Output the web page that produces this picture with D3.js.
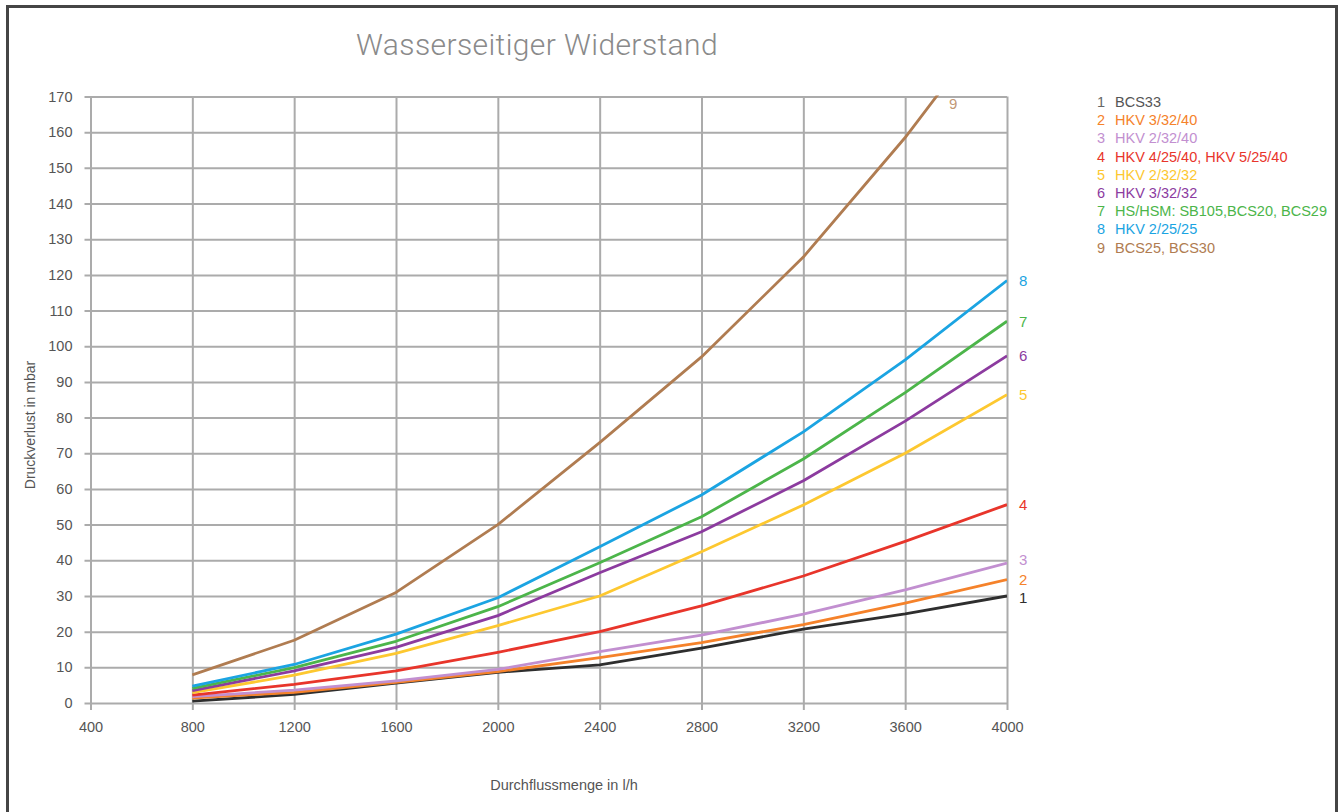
<!DOCTYPE html>
<html>
<head>
<meta charset="utf-8">
<script src="https://cdn.jsdelivr.net/npm/d3@7"></script>
<style>
  html, body { margin: 0; padding: 0; background: #fff; }
  svg { display: block; font-family: "Liberation Sans", "Helvetica Neue", Arial, sans-serif; }
</style>
</head>
<body>
<svg id="chart" width="1344" height="812"></svg>
<script>
// Flow rates (l/h) at which the pressure loss was measured
const flowRates = [800, 1200, 1600, 2000, 2400, 2800, 3200, 3600, 4000];

// Pressure loss (mbar) per device group
const bcs33      = [0.5, 2.4, 5.6, 8.6, 10.7, 15.4, 20.7, 25.0, 30.0];
const hkv33240   = [1.4, 3.0, 5.8, 8.8, 12.7, 16.9, 22.0, 28.0, 34.6];
const hkv23240   = [1.8, 3.6, 6.2, 9.4, 14.4, 19.0, 24.9, 31.7, 39.2];
const hkv42540   = [2.2, 5.2, 9.0, 14.2, 20.0, 27.2, 35.6, 45.3, 55.6];
const hkv23232   = [2.9, 7.8, 13.9, 21.7, 30.0, 42.4, 55.5, 70.0, 86.4];
const hkv33232   = [3.5, 9.0, 15.6, 24.5, 36.5, 48.0, 62.3, 79.0, 97.3];
const hsHsm      = [4.1, 9.9, 17.3, 27.0, 39.3, 52.2, 68.4, 87.0, 107.0];
const hkv22525   = [4.7, 10.8, 19.3, 29.5, 43.8, 58.3, 76.0, 96.2, 118.4];
const bcs2530    = [7.9, 17.6, 31.0, 50.0, 73.0, 97.0, 125.0, 158.5, 196.0];

const seriesNames = [
  "BCS33", "HKV 3/32/40", "HKV 2/32/40", "HKV 4/25/40, HKV 5/25/40",
  "HKV 2/32/32", "HKV 3/32/32", "HS/HSM: SB105,BCS20, BCS29",
  "HKV 2/25/25", "BCS25, BCS30"
];
const seriesColors = [
  "#2e2e2e", "#f5822a", "#c28fd0", "#e8352b",
  "#fdc830", "#8c3b9f", "#4cb54a", "#1ba4e2", "#b07c51"
];
const seriesValues = [bcs33, hkv33240, hkv23240, hkv42540, hkv23232, hkv33232, hsHsm, hkv22525, bcs2530];

const xTicks = [400, 800, 1200, 1600, 2000, 2400, 2800, 3200, 3600, 4000];
const yTicks = d3.range(0, 171, 10);

const svg = d3.select("#chart");

// Outer frame
svg.append("rect")
  .attr("x", 7.5).attr("y", 6.5).attr("width", 1329).attr("height", 820)
  .attr("fill", "none").attr("stroke", "#454545").attr("stroke-width", 3);

const plot = { left: 90.5, right: 1007, top: 96.5, bottom: 703 };

const x = d3.scaleLinear().domain([400, 4000]).range([plot.left, plot.right]);
const y = d3.scaleLinear().domain([0, 170]).range([plot.bottom, plot.top]);

const gridColor = "#ababab";
const tickFont = 14.5;

// Horizontal grid and y axis
const yAxis = d3.axisLeft(y).tickValues(yTicks).tickFormat(d3.format("d"))
  .tickSize(plot.right - plot.left + 6);
const gy = svg.append("g")
  .attr("transform", `translate(${plot.right},0)`)
  .call(yAxis);
gy.select(".domain").remove();
gy.selectAll(".tick line").attr("stroke", gridColor).attr("stroke-width", 2);
gy.selectAll(".tick text")
  .attr("fill", "#555").attr("font-size", tickFont)
  .attr("x", -(plot.right - plot.left + 6) - 12);

// Vertical grid and x axis
const xAxis = d3.axisBottom(x).tickValues(xTicks).tickFormat(d3.format("d"))
  .tickSize(plot.bottom - plot.top + 7).tickPadding(12);
const gx = svg.append("g")
  .attr("transform", `translate(0,${plot.top})`)
  .call(xAxis);
gx.select(".domain").remove();
gx.selectAll(".tick line").attr("stroke", gridColor).attr("stroke-width", 2);
gx.selectAll(".tick text").attr("fill", "#555").attr("font-size", tickFont);

// Curves, clipped to the plot area
svg.append("clipPath").attr("id", "plotClip")
  .append("rect")
  .attr("x", plot.left).attr("y", plot.top - 1)
  .attr("width", plot.right - plot.left).attr("height", plot.bottom - plot.top + 2);

const line = d3.line()
  .x((d, i) => x(flowRates[i]))
  .y(d => y(d));

const curves = svg.append("g").attr("clip-path", "url(#plotClip)");
seriesValues.forEach((vals, k) => {
  curves.append("path")
    .datum(vals)
    .attr("d", line)
    .attr("fill", "none")
    .attr("stroke", seriesColors[k])
    .attr("stroke-width", 2.8)
    .attr("stroke-linejoin", "round");
});

// Curve numbers at the right end
const endLabelOffsets = [2, 0, -3, 0, 0, 0, 0, 0, 0];
seriesValues.forEach((vals, k) => {
  if (k === 8) return;
  svg.append("text")
    .attr("x", plot.right + 12)
    .attr("y", y(vals[vals.length - 1]) + endLabelOffsets[k])
    .attr("dy", "0.35em")
    .attr("fill", seriesColors[k])
    .attr("font-size", 15)
    .text(k + 1);
});
// Curve 9 leaves the plot at the top
svg.append("text")
  .attr("x", 949).attr("y", y(170) + 7)
  .attr("dy", "0.35em")
  .attr("fill", seriesColors[8]).attr("fill-opacity", 0.8)
  .attr("font-size", 15)
  .text("9");

// Title
svg.append("text")
  .attr("x", 537).attr("y", 44)
  .attr("text-anchor", "middle").attr("dy", "0.35em")
  .attr("fill", "#8a8a8a").attr("font-size", 30)
  .attr("font-family", "Roboto, 'Liberation Sans', sans-serif").attr("font-weight", 300)
  .attr("letter-spacing", 0.4)
  .text("Wasserseitiger Widerstand");

// Axis titles
svg.append("text")
  .attr("transform", "translate(30,425) rotate(-90)")
  .attr("text-anchor", "middle").attr("dy", "0.35em")
  .attr("fill", "#555").attr("font-size", 14)
  .text("Druckverlust in mbar");

svg.append("text")
  .attr("x", 564).attr("y", 785)
  .attr("text-anchor", "middle").attr("dy", "0.35em")
  .attr("fill", "#555").attr("font-size", 14.5)
  .text("Durchflussmenge in l/h");

// Legend
const legend = svg.append("g").attr("transform", "translate(1097,102)");
seriesNames.forEach((name, k) => {
  const row = legend.append("g").attr("transform", `translate(0,${k * 18.2})`);
  row.append("text").attr("x", 0).attr("dy", "0.35em")
    .attr("fill", k === 0 ? "#666" : seriesColors[k]).attr("font-size", 14.5)
    .text(k + 1);
  row.append("text").attr("x", 18).attr("dy", "0.35em")
    .attr("fill", k === 0 ? "#555" : seriesColors[k]).attr("font-size", 14.5)
    .text(name);
});
</script>
</body>
</html>
